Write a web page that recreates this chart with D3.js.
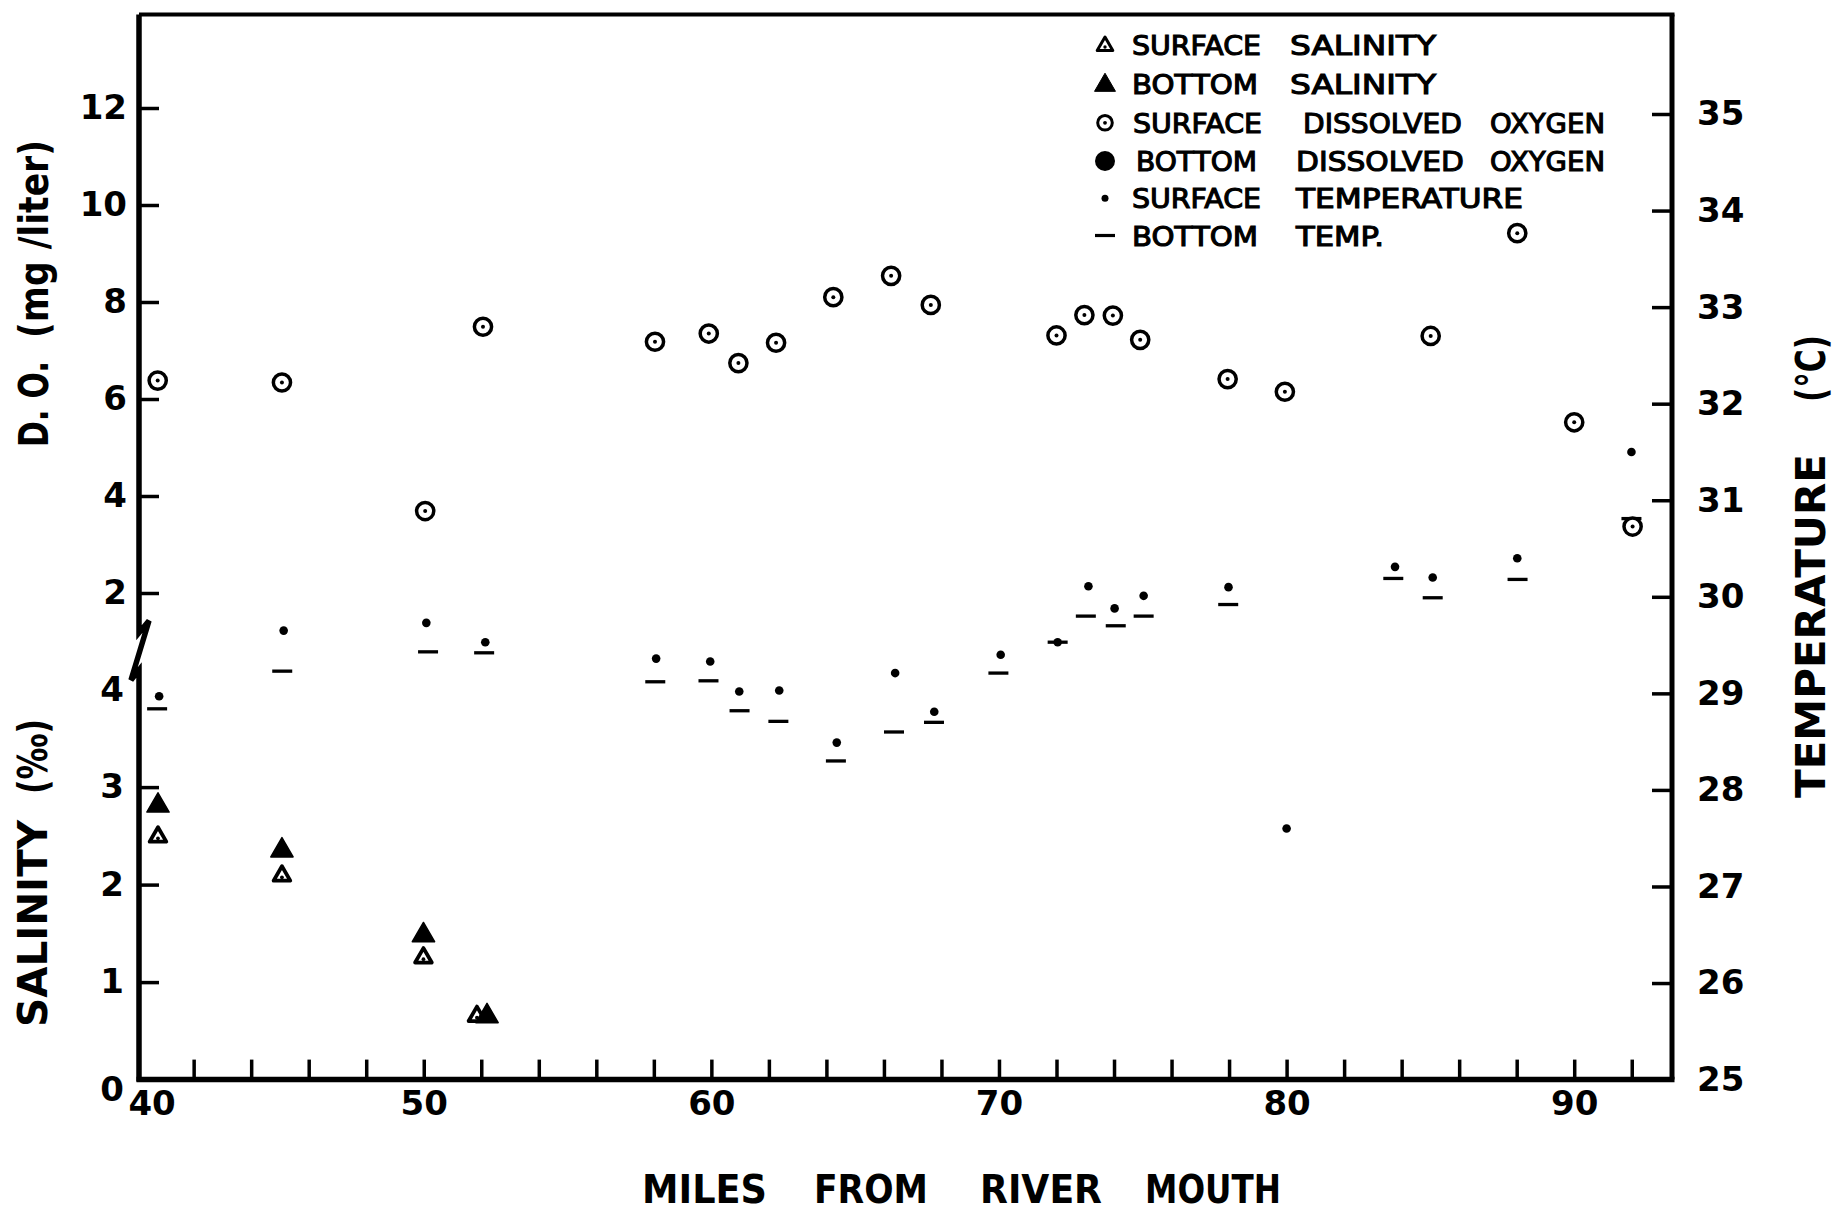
<!DOCTYPE html>
<html>
<head>
<meta charset="utf-8">
<script src="https://cdn.jsdelivr.net/npm/d3@7"></script>
<style>
  html, body { margin: 0; padding: 0; background: #fff; }
  svg { display: block; }
  text { font-family: "DejaVu Sans", sans-serif; font-weight: bold; fill: #000; }
  .legend text { font-weight: normal; stroke: #000; stroke-width: 1.1px; }
</style>
</head>
<body>
<svg id="chart" width="1834" height="1212"></svg>
<script>
// ---- Data: stations in miles from the river mouth ----
const doMiles    = [40.75, 45.07, 50.05, 52.06, 58.04, 59.91, 60.94, 62.25, 64.24, 66.25, 67.63,
                    72.0, 72.97, 73.96, 74.91, 77.95, 79.94, 85.01, 88.02, 90.0, 92.03];
const surfaceDO  = [6.38, 6.34, 3.69, 7.49, 7.18, 7.35, 6.74, 7.16, 8.10, 8.54, 7.94,
                    7.31, 7.73, 7.72, 7.22, 6.41, 6.15, 7.30, 9.42, 5.52, 3.37];

const surfTempMiles = [40.80, 45.13, 50.09, 52.14, 58.08, 59.96, 60.97, 62.36, 64.36, 66.39, 67.75,
                       70.06, 72.04, 73.11, 74.02, 75.03, 77.98, 80.0, 83.77, 85.08, 88.02, 91.99];
const surfaceTemp   = [28.97, 29.65, 29.73, 29.53, 29.36, 29.33, 29.02, 29.03, 28.49, 29.21, 28.81,
                       29.40, 29.53, 30.11, 29.88, 30.01, 30.10, 27.60, 30.31, 30.20, 30.40, 31.50];

const botTempMiles  = [40.73, 45.08, 50.15, 52.10, 58.05, 59.90, 60.98, 62.33, 64.33, 66.35, 67.74,
                       69.98, 72.04, 73.02, 74.06, 75.03, 77.97, 83.71, 85.08, 88.03, 91.99];
const bottomTemp    = [28.84, 29.23, 29.43, 29.42, 29.12, 29.13, 28.82, 28.71, 28.30, 28.60, 28.70,
                       29.21, 29.53, 29.80, 29.70, 29.80, 29.92, 30.19, 29.99, 30.18, 30.81];

const surfSalMiles  = [40.76, 45.07, 49.99, 51.85];
const surfaceSal    = [2.49, 2.09, 1.25, 0.65];
const botSalMiles   = [40.76, 45.07, 49.99, 52.20];
const bottomSal     = [2.81, 2.35, 1.48, 0.65];

// ---- Tick values ----
const mileTicks  = d3.range(42, 93, 2);
const mileLabels = [40, 50, 60, 70, 80, 90];
const doTicks    = [2, 4, 6, 8, 10, 12];
const salTicks   = [0, 1, 2, 3, 4];
const tempTicks  = [25, 26, 27, 28, 29, 30, 31, 32, 33, 34, 35];

// ---- Legend ----
const legendSymbols = ["triOpen", "triFilled", "ring", "disc", "dot", "dash"];
const legendLabels = [
  ["SURFACE", "SALINITY"],
  ["BOTTOM", "SALINITY"],
  ["SURFACE", "DISSOLVED", "OXYGEN"],
  ["BOTTOM", "DISSOLVED", "OXYGEN"],
  ["SURFACE", "TEMPERATURE"],
  ["BOTTOM", "TEMP."]
];

const W = 1834, H = 1212;
const svg = d3.select("#chart");
svg.append("rect").attr("width", W).attr("height", H).attr("fill", "#fff");

// ---- Scales ----
const x     = d3.scaleLinear().domain([40.1, 93.4]).range([139, 1672]);
const yTemp = d3.scaleLinear().domain([25, 35]).range([1079.6, 114]);
const yDO   = d3.scaleLinear().domain([2, 12]).range([593, 108]);
const ySal  = d3.scaleLinear().domain([0, 4]).range([1079.6, 689.6]);

const x0 = x(40.1), x1 = x(93.4);
const yTop = yTemp(36.03), yBot = ySal(0);
const yBreakTop = yDO(1.18), yBreakBot = ySal(4.18);

// ---- Frame, with the broken left axis ----
const frame = svg.append("g").attr("fill", "none").attr("stroke", "#000").attr("stroke-linejoin", "miter");
frame.append("path")
  .attr("d", `M${x0},${yTop} V${yBreakTop} L${x0 + 10},${yBreakTop - 12} L${x0 - 8},${yBreakBot + 8} L${x0},${yBreakBot - 2} V${yBot + 2}`)
  .attr("stroke-width", 5.5);
frame.append("path").attr("d", `M${x0 - 2.5},${yBot} H${x1 + 2.5}`).attr("stroke-width", 5.5);
frame.append("path").attr("d", `M${x1},${yTop} V${yBot}`).attr("stroke-width", 5);
frame.append("path").attr("d", `M${x0},${yTop} H${x1 + 2.5}`).attr("stroke-width", 4);

function styleAxis(g) {
  g.select(".domain").remove();
  g.selectAll(".tick line").attr("stroke", "#000").attr("stroke-width", 3.5);
  g.selectAll(".tick text").attr("font-size", 34).attr("font-family", "DejaVu Sans").attr("font-weight", "bold").attr("fill", "#000");
}

// Dissolved oxygen (upper left)
svg.append("g").attr("transform", `translate(${x0},0)`)
  .call(d3.axisLeft(yDO).tickValues(doTicks).tickSize(-20).tickPadding(12).tickFormat(d3.format("d")))
  .call(styleAxis);

// Salinity (lower left)
svg.append("g").attr("transform", `translate(${x0},0)`)
  .call(d3.axisLeft(ySal).tickValues(salTicks).tickSize(-20).tickPadding(15).tickFormat(d3.format("d")))
  .call(styleAxis)
  .call(g => g.selectAll(".tick").filter(d => d === 0 || d === 4).select("line").remove())
  .call(g => g.selectAll(".tick").filter(d => d === 0).select("text").attr("dy", "0.62em"));

// Temperature (right)
svg.append("g").attr("transform", `translate(${x1},0)`)
  .call(d3.axisRight(yTemp).tickValues(tempTicks).tickSize(-20).tickPadding(25).tickFormat(d3.format("d")))
  .call(styleAxis)
  .call(g => g.selectAll(".tick").filter(d => d === 25).select("line").remove());

// Miles (bottom)
svg.append("g").attr("transform", `translate(0,${yBot})`)
  .call(d3.axisBottom(x).tickValues(mileTicks).tickSize(-20).tickPadding(11)
        .tickFormat(d => mileLabels.includes(d) ? d : ""))
  .call(styleAxis);
svg.append("text")
  .attr("x", x(40) + 16).attr("y", yBot + 11).attr("dy", "0.71em")
  .attr("text-anchor", "middle").attr("font-size", 34)
  .text(mileLabels[0]);

// ---- Axis titles (placed word by word) ----
function word(g, str, px, py, len, size, rot) {
  g.append("text")
    .attr("transform", rot ? `translate(${px},${py}) rotate(-90)` : `translate(${px},${py})`)
    .attr("font-size", size)
    .attr("textLength", len)
    .attr("lengthAdjust", "spacingAndGlyphs")
    .text(str);
}
const titles = svg.append("g");
word(titles, "MILES", 642, 1203, 125, 39, false);
word(titles, "FROM", 814, 1203, 114, 39, false);
word(titles, "RIVER", 980, 1203, 122, 39, false);
word(titles, "MOUTH", 1145, 1203, 136, 39, false);

word(titles, "D. O.", 48, 447, 86, 40, true);
word(titles, "(mg /liter)", 48, 338, 198, 40, true);

word(titles, "SALINITY", 47, 1027, 207, 40, true);
word(titles, "(\u2030)", 47, 794, 75, 40, true);

word(titles, "TEMPERATURE", 1825, 798, 344, 40, true);
word(titles, "(\u00b0C)", 1825, 402, 67, 40, true);

// ---- Marker drawing helpers ----
const triFilledPath = d3.symbol(d3.symbolTriangle, 215)();
const triOpenPath   = d3.symbol(d3.symbolTriangle, 120)();

function drawRing(g, cx, cy, r, sw, dotR) {
  g.append("circle").attr("cx", cx).attr("cy", cy).attr("r", r)
    .attr("fill", "#fff").attr("stroke", "#000").attr("stroke-width", sw);
  g.append("circle").attr("cx", cx).attr("cy", cy).attr("r", dotR).attr("fill", "#000");
}

const marks = svg.append("g");

// Bottom temperature: short dashes
marks.append("g").selectAll("line")
  .data(d3.zip(botTempMiles, bottomTemp))
  .join("line")
  .attr("x1", d => x(d[0]) - 10).attr("x2", d => x(d[0]) + 10)
  .attr("y1", d => yTemp(d[1])).attr("y2", d => yTemp(d[1]))
  .attr("stroke", "#000").attr("stroke-width", 3.3);

// Surface temperature: small dots
marks.append("g").selectAll("circle")
  .data(d3.zip(surfTempMiles, surfaceTemp))
  .join("circle")
  .attr("cx", d => x(d[0])).attr("cy", d => yTemp(d[1])).attr("r", 4.3)
  .attr("fill", "#000");

// Surface dissolved oxygen: ring with centre dot
const doG = marks.append("g");
d3.zip(doMiles, surfaceDO).forEach(d => drawRing(doG, x(d[0]), yDO(d[1]), 8.6, 3.5, 2));

// Surface salinity: open triangle with a dot
const sg = marks.append("g");
sg.selectAll("g")
  .data(d3.zip(surfSalMiles, surfaceSal))
  .join("g")
  .attr("transform", d => `translate(${x(d[0])},${ySal(d[1])})`)
  .each(function () {
    const t = d3.select(this);
    t.append("path").attr("d", triOpenPath).attr("fill", "#fff")
      .attr("stroke", "#000").attr("stroke-width", 3.8).attr("stroke-linejoin", "round");
    t.append("circle").attr("cx", 0).attr("cy", 1.5).attr("r", 1.9).attr("fill", "#000");
  });

// Bottom salinity: filled triangle
marks.append("g").selectAll("path")
  .data(d3.zip(botSalMiles, bottomSal))
  .join("path")
  .attr("transform", d => `translate(${x(d[0])},${ySal(d[1])})`)
  .attr("d", triFilledPath)
  .attr("fill", "#000").attr("stroke", "#000").attr("stroke-width", 1.5).attr("stroke-linejoin", "round");

// ---- Legend ----
const rowY   = [45, 84.3, 122.8, 161, 198.3, 235.5];
const wordX  = [[1132, 1290], [1132, 1290], [1133, 1303, 1490], [1136, 1296, 1490], [1132, 1296], [1132, 1296]];
const wordW  = [[129, 146], [126, 146], [129, 159, 115], [121, 168, 115], [129, 227], [126, 88]];
const symX = 1105;

const legend = svg.append("g").attr("class", "legend");
legendSymbols.forEach((s, i) => {
  const cy = rowY[i];
  if (s === "triOpen") {
    const t = legend.append("g").attr("transform", `translate(${symX},${cy + 1})`);
    t.append("path").attr("d", d3.symbol(d3.symbolTriangle, 105)()).attr("fill", "#fff")
      .attr("stroke", "#000").attr("stroke-width", 3).attr("stroke-linejoin", "round");
    t.append("circle").attr("cx", 0).attr("cy", 1).attr("r", 1.7).attr("fill", "#000");
  } else if (s === "triFilled") {
    legend.append("path").attr("transform", `translate(${symX},${cy + 1})`)
      .attr("d", d3.symbol(d3.symbolTriangle, 190)()).attr("fill", "#000")
      .attr("stroke", "#000").attr("stroke-width", 1).attr("stroke-linejoin", "round");
  } else if (s === "ring") {
    drawRing(legend, symX, cy, 7.3, 3, 1.9);
  } else if (s === "disc") {
    legend.append("circle").attr("cx", symX).attr("cy", cy).attr("r", 10).attr("fill", "#000");
  } else if (s === "dot") {
    legend.append("circle").attr("cx", symX).attr("cy", cy).attr("r", 3.5).attr("fill", "#000");
  } else {
    legend.append("line").attr("x1", symX - 10).attr("x2", symX + 10)
      .attr("y1", cy).attr("y2", cy).attr("stroke", "#000").attr("stroke-width", 3.2);
  }
  legendLabels[i].forEach((w, j) => {
    word(legend, w, wordX[i][j], cy + 10, wordW[i][j], 26, false);
  });
});
</script>
</body>
</html>
